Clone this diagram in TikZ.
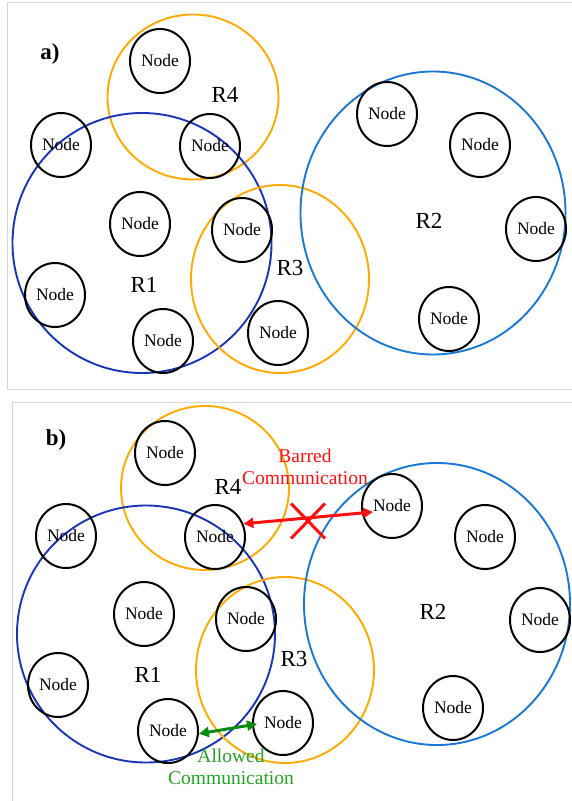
\documentclass[tikz,border=0pt]{standalone}
\usepackage{fontspec}
\setmainfont{Liberation Serif}
\usetikzlibrary{shapes.geometric,shapes.misc,arrows.meta,calc}
\definecolor{orng}{HTML}{FFAA00}
\definecolor{dblue}{HTML}{1A34B8}
\definecolor{lblue}{HTML}{1B78D2}
\definecolor{panelgray}{HTML}{D6D6D6}
\definecolor{redc}{HTML}{FF1010}
\definecolor{garrow}{HTML}{0A8A0A}
\definecolor{gtext}{HTML}{22A322}
\begin{document}
\begin{tikzpicture}[x=1pt,y=-1pt,
  >={Triangle[length=10pt,width=10pt]},
  nd/.style={ellipse, draw=black, line width=2pt, minimum width=60pt, minimum height=64pt, inner sep=0pt, font=\fontsize{17.5}{19}\selectfont},
  region/.style={ellipse, line width=1.9pt, inner sep=0pt},
  rlabel/.style={font=\fontsize{23}{26}\selectfont, inner sep=0pt},
  plabel/.style={font=\fontsize{23}{26}\selectfont\bfseries, inner sep=0pt},
  panel/.style={draw=panelgray, line width=1pt},
  commtext/.style={align=center, font=\fontsize{19.5}{21.5}\selectfont, inner sep=0pt},
  commarrow/.style={line width=3pt, <->}
]
\useasboundingbox (0,0) rectangle (571,801);
% panels
\draw[panel] (575,2) -- (7,2) -- (7,389) -- (575,389);
\draw[panel] (575,402) -- (12,402) -- (12,805);

% ---------- panel a ----------
\node[plabel] (pa) at (50,54) {a)};
\node[region, draw=orng, minimum width=171pt, minimum height=165pt] (R4a) at (193,97) {};
\node[region, draw=dblue, minimum width=259pt, minimum height=260pt] (R1a) at (142,243) {};
\node[region, draw=orng, minimum width=178pt, minimum height=188pt] (R3a) at (280,279) {};
\node[region, draw=lblue, minimum width=265pt, minimum height=283pt] (R2a) at (433,213) {};
\node[rlabel] (l4a) at (225,95) {R4};
\node[rlabel] (l1a) at (144,285) {R1};
\node[rlabel] (l3a) at (290,268) {R3};
\node[rlabel] (l2a) at (429,221) {R2};
\node[nd] (a1) at (160,61) {Node};
\node[nd] (a2) at (61,145) {Node};
\node[nd] (a3) at (210,146) {Node};
\node[nd] (a4) at (140,224) {Node};
\node[nd] (a5) at (242,230) {Node};
\node[nd] (a6) at (55,295) {Node};
\node[nd] (a7) at (163,341) {Node};
\node[nd] (a8) at (278,333) {Node};
\node[nd] (a9) at (387,114) {Node};
\node[nd] (a10) at (480,145) {Node};
\node[nd] (a11) at (536,229) {Node};
\node[nd] (a12) at (449,319) {Node};

% ---------- panel b ----------
\node[plabel] (pb) at (56,440) {b)};
\node[region, draw=orng, minimum width=168pt, minimum height=164pt] (R4b) at (205,488) {};
\node[region, draw=dblue, minimum width=258pt, minimum height=257pt] (R1b) at (146,634) {};
\node[region, draw=orng, minimum width=178pt, minimum height=186pt] (R3b) at (285,670) {};
\node[region, draw=lblue, minimum width=266pt, minimum height=282pt] (R2b) at (437,604) {};
\node[rlabel] (l4b) at (228,487) {R4};
\node[rlabel] (l1b) at (148,675) {R1};
\node[rlabel] (l3b) at (294,659) {R3};
\node[rlabel] (l2b) at (433,612) {R2};
\node[nd] (b1) at (165,453) {Node};
\node[nd] (b2) at (66,536) {Node};
\node[nd] (b3) at (215,537) {Node};
\node[nd] (b4) at (144,614) {Node};
\node[nd] (b5) at (246,619) {Node};
\node[nd] (b6) at (58,685) {Node};
\node[nd] (b7) at (168,731) {Node};
\node[nd] (b8) at (283,723) {Node};
\node[nd] (b9) at (392,506) {Node};
\node[nd] (b10) at (485,537) {Node};
\node[nd] (b11) at (540,620) {Node};
\node[nd] (b12) at (453,708) {Node};

% barred communication
\node[commtext, text=redc] (bt) at (305,467) {Barred\\Communication};
\draw[redc, commarrow] (b3.25) -- ($(b9.center)+(-19,6)$);
\node[cross out, draw=redc, line width=3pt, minimum width=31pt, minimum height=32pt, inner sep=0pt] (X) at (308,521) {};

% allowed communication
\node[commtext, text=gtext] (gt) at (231,767) {Allowed\\Communication};
\draw[garrow, commarrow] (b7.-5) -- ($(b8.west)+(5,1)$);
\end{tikzpicture}
\end{document}
